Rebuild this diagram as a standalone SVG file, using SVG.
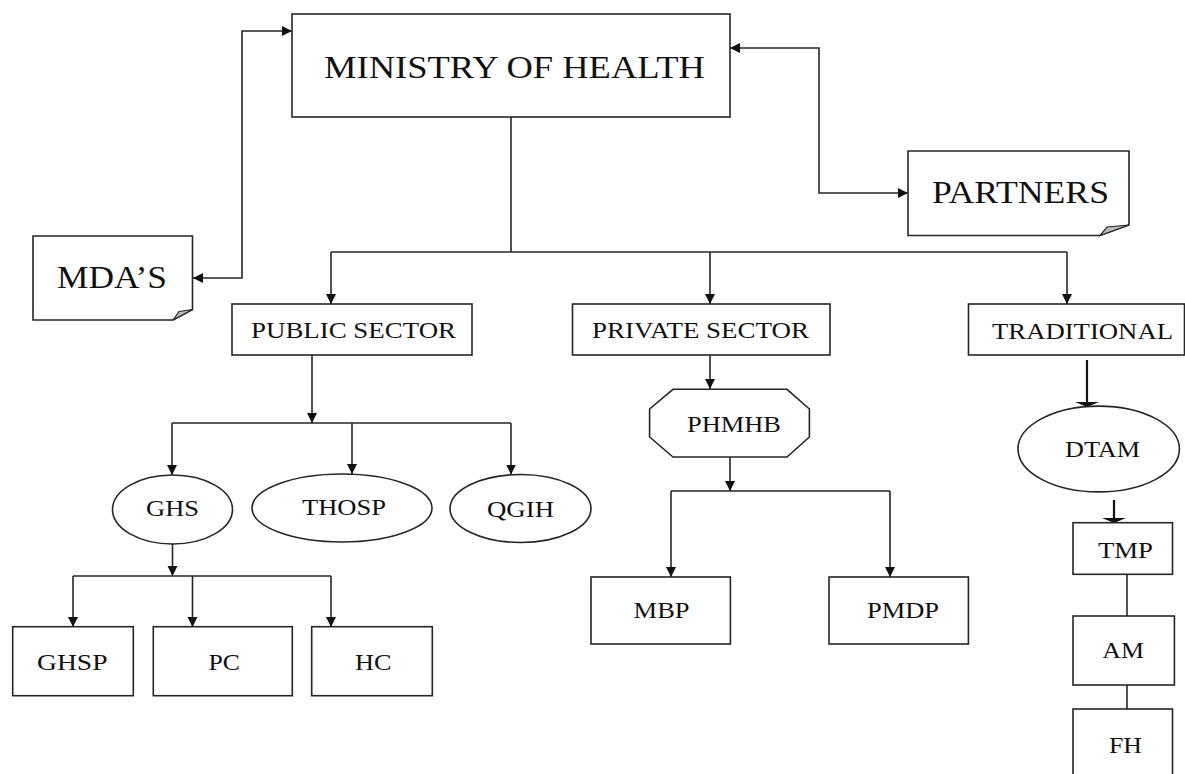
<svg xmlns="http://www.w3.org/2000/svg" width="1185" height="774" viewBox="0 0 1185 774">
<style>
.box{fill:#fff;stroke:#262626;stroke-width:1.6}
.fold{fill:#bbb;stroke:#262626;stroke-width:1.2}
.ln{fill:none;stroke:#262626;stroke-width:1.6}
.thick{fill:none;stroke:#111;stroke-width:2.2}
.big{font-family:"Liberation Serif","Times New Roman",serif;font-size:32px;fill:#111}
.mid{font-family:"Liberation Serif","Times New Roman",serif;font-size:23.5px;fill:#111}
.sm{font-family:"Liberation Serif","Times New Roman",serif;font-size:23px;fill:#111}
</style>
<defs>
<marker id="arr" viewBox="0 0 10 10" refX="10" refY="5" markerWidth="10" markerHeight="11" markerUnits="userSpaceOnUse" orient="auto-start-reverse">
<path d="M0,0 L10,5 L0,10 Z" fill="#111"/>
</marker>
</defs>
<rect width="1185" height="774" fill="#fff"/>

<g id="connectors">
<path class="ln" d="M193,278 H242 V31 H292" marker-start="url(#arr)" marker-end="url(#arr)"/>
<path class="ln" d="M730,48 H819 V193 H908" marker-start="url(#arr)" marker-end="url(#arr)"/>
<path class="ln" d="M511,117 V252"/>
<path class="ln" d="M331,252 H1067"/>
<path class="ln" d="M331,252 V304" marker-end="url(#arr)"/>
<path class="ln" d="M710,252 V304" marker-end="url(#arr)"/>
<path class="ln" d="M1067,252 V304" marker-end="url(#arr)"/>
<path class="ln" d="M312,355 V423" marker-end="url(#arr)"/>
<path class="ln" d="M172,423 H511"/>
<path class="ln" d="M172,423 V475" marker-end="url(#arr)"/>
<path class="ln" d="M352,423 V474" marker-end="url(#arr)"/>
<path class="ln" d="M511,423 V474.5" marker-end="url(#arr)"/>
<path class="ln" d="M172.5,544 V576" marker-end="url(#arr)"/>
<path class="ln" d="M73,576 H331"/>
<path class="ln" d="M73,576 V627" marker-end="url(#arr)"/>
<path class="ln" d="M192.5,576 V627" marker-end="url(#arr)"/>
<path class="ln" d="M331,576 V627" marker-end="url(#arr)"/>
<path class="ln" d="M710,355 V389" marker-end="url(#arr)"/>
<path class="ln" d="M730,457 V491" marker-end="url(#arr)"/>
<path class="ln" d="M671,491 H890"/>
<path class="ln" d="M671,491 V577" marker-end="url(#arr)"/>
<path class="ln" d="M890,491 V577" marker-end="url(#arr)"/>
<path class="thick" d="M1087,360 V404"/>
<path d="M1075,402 H1099 L1087,407 Z" fill="#111"/>
<path class="thick" d="M1114,500 V520"/>
<path d="M1102,518 H1126 L1114,523 Z" fill="#111"/>
<path class="ln" d="M1127,574 V616"/>
<path class="ln" d="M1127,685 V709"/>
</g>

<g id="moh">
<rect class="box" x="292" y="14" width="438" height="103"/>
<text class="big" x="324" y="78" textLength="381" lengthAdjust="spacingAndGlyphs">MINISTRY OF HEALTH</text>
</g>
<g id="mdas">
<path class="box" d="M33,236 H192.5 V309.5 L173,320 H33 Z"/>
<path class="fold" d="M192.5,309.5 L173,320 L179,311.5 Z"/>
<text class="big" x="57" y="288" textLength="110" lengthAdjust="spacingAndGlyphs">MDA’S</text>
</g>
<g id="partners">
<path class="box" d="M908,151 H1129 V225 L1100,235.5 H908 Z"/>
<path class="fold" d="M1129,225 L1100,235.5 L1107,227 Z"/>
<text class="big" x="932" y="203" textLength="177" lengthAdjust="spacingAndGlyphs">PARTNERS</text>
</g>
<g id="public">
<rect class="box" x="232" y="304" width="240" height="51"/>
<text class="mid" x="251" y="337.5" textLength="205" lengthAdjust="spacingAndGlyphs">PUBLIC SECTOR</text>
</g>
<g id="private">
<rect class="box" x="572.5" y="304" width="257.5" height="51"/>
<text class="mid" x="592" y="337.5" textLength="217" lengthAdjust="spacingAndGlyphs">PRIVATE SECTOR</text>
</g>
<g id="traditional">
<rect class="box" x="968.5" y="304" width="216" height="51"/>
<text class="mid" x="992" y="339" textLength="181" lengthAdjust="spacingAndGlyphs">TRADITIONAL</text>
</g>
<g id="ghs">
<ellipse class="box" cx="172.5" cy="509.5" rx="60" ry="34.5"/>
<text class="sm" x="146" y="516" textLength="53" lengthAdjust="spacingAndGlyphs">GHS</text>
</g>
<g id="thosp">
<ellipse class="box" cx="342" cy="508" rx="90" ry="34"/>
<text class="sm" x="302" y="515" textLength="84" lengthAdjust="spacingAndGlyphs">THOSP</text>
</g>
<g id="qgih">
<ellipse class="box" cx="520.5" cy="508.5" rx="70.5" ry="34"/>
<text class="sm" x="487" y="516.5" textLength="67" lengthAdjust="spacingAndGlyphs">QGIH</text>
</g>
<g id="ghsp">
<rect class="box" x="12.7" y="626.7" width="120.6" height="69"/>
<text class="sm" x="37" y="670" textLength="70.5" lengthAdjust="spacingAndGlyphs">GHSP</text>
</g>
<g id="pc">
<rect class="box" x="153.3" y="626.7" width="139" height="69"/>
<text class="sm" x="208.5" y="670" textLength="31.5" lengthAdjust="spacingAndGlyphs">PC</text>
</g>
<g id="hc">
<rect class="box" x="311.7" y="626.7" width="120.6" height="69"/>
<text class="sm" x="355" y="670" textLength="36.5" lengthAdjust="spacingAndGlyphs">HC</text>
</g>
<g id="phmhb">
<polygon class="box" points="673,389.3 787,389.3 809.4,409 809.4,437 787,457 673,457 649.6,437 649.6,409"/>
<text class="sm" x="687" y="431.7" textLength="94" lengthAdjust="spacingAndGlyphs">PHMHB</text>
</g>
<g id="mbp">
<rect class="box" x="591" y="577" width="139.4" height="67"/>
<text class="sm" x="633.6" y="618.3" textLength="56" lengthAdjust="spacingAndGlyphs">MBP</text>
</g>
<g id="pmdp">
<rect class="box" x="829" y="577" width="139.4" height="67"/>
<text class="sm" x="867" y="618.3" textLength="72" lengthAdjust="spacingAndGlyphs">PMDP</text>
</g>
<g id="dtam">
<ellipse class="box" cx="1098.7" cy="449" rx="80.7" ry="42.9"/>
<text class="sm" x="1065" y="457.3" textLength="75" lengthAdjust="spacingAndGlyphs">DTAM</text>
</g>
<g id="tmp">
<rect class="box" x="1073" y="522.7" width="99.5" height="51.6"/>
<text class="sm" x="1098" y="557.7" textLength="55" lengthAdjust="spacingAndGlyphs">TMP</text>
</g>
<g id="am">
<rect class="box" x="1073" y="616" width="101.4" height="69"/>
<text class="sm" x="1102.3" y="658.3" textLength="41.7" lengthAdjust="spacingAndGlyphs">AM</text>
</g>
<g id="fh">
<rect class="box" x="1073" y="709" width="99.5" height="75"/>
<text class="sm" x="1109" y="752.7" textLength="33" lengthAdjust="spacingAndGlyphs">FH</text>
</g>
</svg>
